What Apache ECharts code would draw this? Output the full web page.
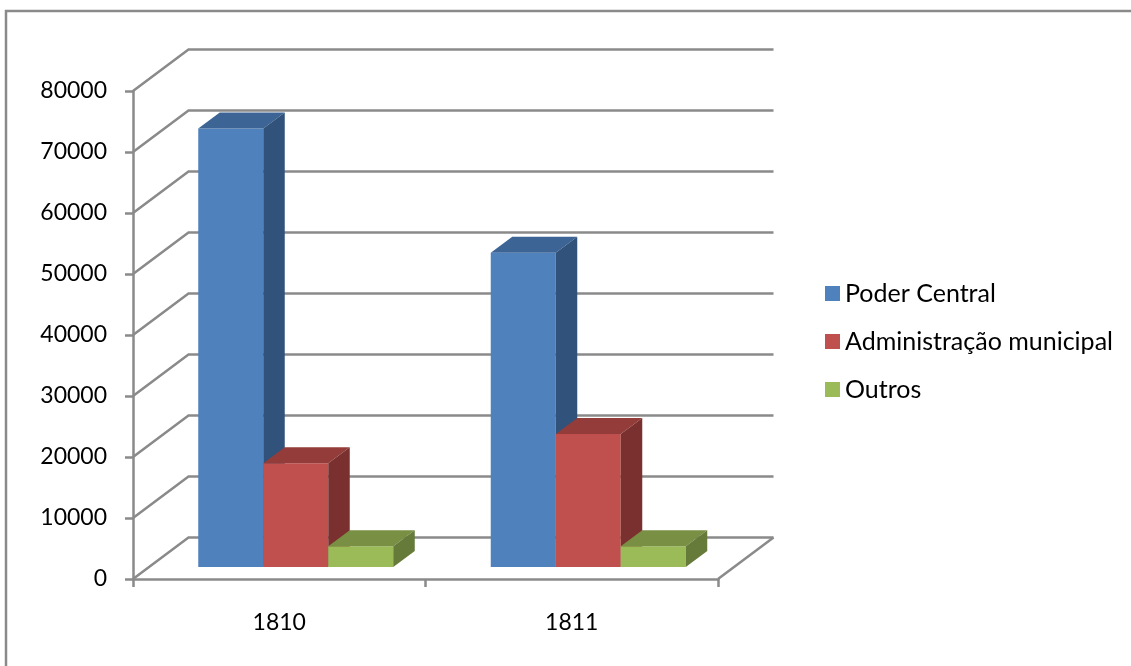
<!DOCTYPE html>
<html>
<head>
<meta charset="utf-8">
<style>html,body{margin:0;padding:0;background:#fff;overflow:hidden}#chart{width:1131px;height:666px}</style>
<script src="https://cdn.jsdelivr.net/npm/echarts@6/dist/echarts.min.js"></script>
</head>
<body>
<div id="chart"></div>
<script>
const categories = ['1810', '1811'];
const poderCentral = [71900, 51500];
const administracaoMunicipal = [17000, 21800];
const outros = [3400, 3400];
const gridTicks = [0, 10000, 20000, 30000, 40000, 50000, 60000, 70000, 80000];

// Pseudo-3D projection: how far the back wall and the bar depth shift on screen.
const WALL_DX = 55.5, WALL_DY = 41.5;
const BAR_INSET_DX = 16.5, BAR_INSET_DY = 12;
const BAR_DX = 21.5, BAR_DY = 16;
const FONT = 'Lato';
const GRAY = '#8a8a8a';
const LINE_W = 2.5;

function wallItem(params, api) {
  const v = api.value(0);
  const left = api.coord([0, v]);
  const band = api.size([1, 0])[0];
  const x0 = left[0] - band / 2;
  const x1 = left[0] + band * 1.5;
  const y = left[1];
  const pts = [[x0, y], [x0 + WALL_DX, y - WALL_DY], [x1 + WALL_DX, y - WALL_DY]];
  const children = [{
    type: 'polyline',
    shape: { points: pts },
    style: { stroke: GRAY, lineWidth: LINE_W, fill: null }
  }];
  if (v === 0) {
    children.push({
      type: 'line',
      shape: { x1: x1, y1: y, x2: x1 + WALL_DX, y2: y - WALL_DY },
      style: { stroke: GRAY, lineWidth: LINE_W }
    });
  }
  return { type: 'group', children: children };
}

function barRenderer(slot, front, top, side) {
  return function (params, api) {
    const cat = api.value(0);
    const band = api.size([1, 0])[0];
    const w = band / 4.5;
    const base = api.coord([cat, 0]);
    const head = api.coord([cat, api.value(1)]);
    const xL = base[0] + BAR_INSET_DX + (slot - 1.5) * w;
    const xR = xL + w;
    const yB = base[1] - BAR_INSET_DY;
    const yT = head[1] - BAR_INSET_DY;
    return {
      type: 'group',
      children: [
        { type: 'rect', shape: { x: xL, y: yT, width: w, height: yB - yT }, style: { fill: front } },
        { type: 'polygon', shape: { points: [[xL, yT], [xL + BAR_DX, yT - BAR_DY], [xR + BAR_DX, yT - BAR_DY], [xR, yT]] }, style: { fill: top } },
        { type: 'polygon', shape: { points: [[xR, yT], [xR + BAR_DX, yT - BAR_DY], [xR + BAR_DX, yB - BAR_DY], [xR, yB]] }, style: { fill: side } }
      ]
    };
  };
}

function barSeries(name, values, slot, front, top, side) {
  return {
    type: 'custom',
    name: name,
    coordinateSystem: 'cartesian2d',
    silent: true,
    itemStyle: { color: front },
    encode: { x: 0, y: 1 },
    data: values.map((v, i) => [i, v]),
    renderItem: barRenderer(slot, front, top, side),
    z: 3 + slot
  };
}

const chart = echarts.init(document.getElementById('chart'), null, { renderer: 'canvas' });
chart.setOption({
  animation: false,
  backgroundColor: '#fff',
  graphic: [{
    type: 'rect',
    silent: true,
    z: -10,
    shape: { x: 6, y: 11, width: 1200, height: 700 },
    style: { fill: null, stroke: GRAY, lineWidth: LINE_W }
  }],
  grid: { left: 133, right: 413, top: 91, bottom: 87 },
  xAxis: {
    type: 'category',
    data: categories,
    axisLine: { lineStyle: { color: GRAY, width: LINE_W } },
    axisTick: { show: true, length: 8, alignWithLabel: false, lineStyle: { color: GRAY, width: LINE_W } },
    axisLabel: { color: '#000', fontFamily: FONT, fontSize: 23, margin: 32 },
    splitLine: { show: false }
  },
  yAxis: {
    type: 'value',
    min: 0,
    max: 80000,
    interval: 10000,
    axisLine: { show: true, lineStyle: { color: GRAY, width: LINE_W } },
    axisTick: { show: true, length: 8, lineStyle: { color: GRAY, width: LINE_W } },
    axisLabel: { color: '#000', fontFamily: FONT, fontSize: 23, margin: 26, padding: [4, 0, 0, 0], formatter: v => String(v) },
    splitLine: { show: false }
  },
  legend: {
    left: 825,
    top: 281,
    padding: 0,
    orient: 'vertical',
    icon: 'rect',
    itemWidth: 15,
    itemHeight: 15,
    itemGap: 23,
    selectedMode: false,
    textStyle: { color: '#000', fontFamily: FONT, fontSize: 25 },
    data: ['Poder Central', 'Administração municipal', 'Outros']
  },
  series: [
    {
      type: 'custom',
      name: 'wall',
      silent: true,
      coordinateSystem: 'cartesian2d',
      encode: { y: 0 },
      data: gridTicks.map(v => [v]),
      renderItem: wallItem,
      z: 1
    },
    barSeries('Poder Central', poderCentral, 0, '#4f81bd', '#3c6494', '#30527b'),
    barSeries('Administração municipal', administracaoMunicipal, 1, '#c0504d', '#943c39', '#7a302e'),
    barSeries('Outros', outros, 2, '#9bbb59', '#788f44', '#667a3a')
  ]
});
</script>
</body>
</html>
